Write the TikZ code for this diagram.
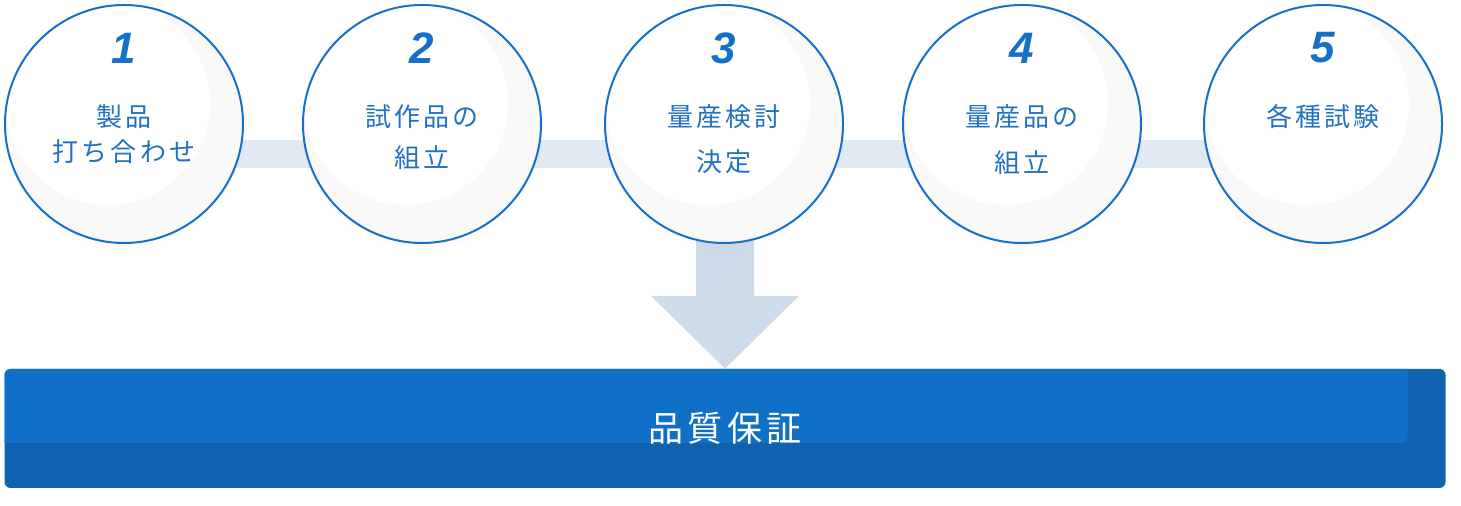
\documentclass[tikz,border=0pt]{standalone}
\usepackage{fontspec}
\newfontfamily\jpfont{Noto Sans CJK JP}
\newfontfamily\numfont{Liberation Sans}
\usetikzlibrary{calc,backgrounds,shadows}
\definecolor{stepblue}{HTML}{1670C7}
\definecolor{steptextblue}{HTML}{2272C3}
\definecolor{stepgrey}{HTML}{F9F9FA}
\definecolor{linkgrey}{HTML}{E1E9F2}
\definecolor{arrowgrey}{HTML}{CEDCEA}
\definecolor{qadark}{HTML}{0F62B0}
\definecolor{qalight}{HTML}{0E70C6}
\tikzset{
  stepcircle/.style={circle, draw=stepblue, line width=1pt, fill=stepgrey,
    minimum size=119pt, inner sep=0pt,
    circular drop shadow={shadow xshift=0pt, shadow yshift=-2pt, opacity=0.08, shadow scale=1.03},
    path picture={\fill[white] ($(path picture bounding box.center)+(-16,-21)$) circle (51pt);}},
  stepnum/.style={text=stepblue, font=\numfont\bfseries\itshape\fontsize{22}{22}\selectfont, inner sep=0pt},
  steptext/.style={text=steptextblue, font=\jpfont\addfontfeature{LetterSpace=12}\fontsize{13}{13}\selectfont, inner sep=0pt},
  qabar/.style={rounded corners=3pt, fill=qadark, minimum width=720.5pt, minimum height=59.5pt,
    inner sep=0pt, text=white, font=\jpfont\addfontfeature{LetterSpace=13}\fontsize{17.5}{17.5}\selectfont,
    path picture={\fill[qalight, rounded corners=3pt] ($(path picture bounding box.north west)+(-10,-10)$)
      rectangle ($(path picture bounding box.north east)+(-38,74)$);}},
}
\begin{document}
\begin{tikzpicture}[x=0.5pt, y=-0.5pt]
  \useasboundingbox (0,0) rectangle (1461,506);
  % the five steps
  \foreach \i/\x/\t in {1/124/製品, 2/422/試作品の, 3/724/量産検討, 4/1022/量産品の, 5/1323/各種試験} {
    \node[stepcircle] (s\i) at (\x,124) {};
    \node[stepnum] (n\i) at (\x,48) {\i};
    \node[steptext] (a\i) at (\x,117) {\t};
  }
  \foreach \i/\t/\y in {1/打ち合わせ/152, 2/組立/158, 3/決定/162, 4/組立/163}
    \node[steptext] (b\i) at ($(s\i.center)+(0,\y-124)$) {\t};

  % quality assurance bar
  \node[qabar] (qa) at (725,428.5) {\raisebox{-2.5pt}{品質保証}};

  \begin{pgfonlayer}{background}
    \fill[linkgrey] ($(s1.center)+(0,16)$) rectangle ($(s5.center)+(0,44)$);
    \fill[arrowgrey] ($(s3.center)+(-28,100)$) -- ($(s3.center)+(30,100)$)
      -- ($(s3.center)+(30,172)$) -- ($(s3.center)+(75,172)$)
      -- ($(s3.center |- qa.north)+(1,0)$)
      -- ($(s3.center)+(-73,172)$) -- ($(s3.center)+(-28,172)$) -- cycle;
  \end{pgfonlayer}
\end{tikzpicture}
\end{document}
